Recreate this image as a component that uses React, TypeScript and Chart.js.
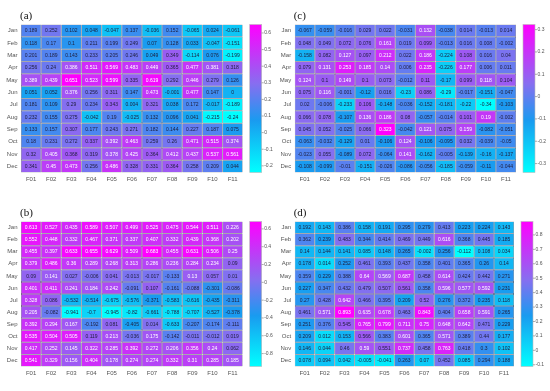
import React, { useEffect, useRef } from "react";
import { Chart, registerables } from "chart.js";
Chart.register(...registerables);

const months = ["Jan", "Feb", "Mar", "Apr", "May", "Jun", "Jul", "Aug", "Sep", "Oct", "Nov", "Dec"];
const factors = ["F01", "F02", "F03", "F04", "F05", "F06", "F07", "F08", "F09", "F10", "F11"];

const valuesA: number[][] = [
  [0.189, 0.252, 0.102, 0.048, -0.047, 0.137, -0.036, 0.152, -0.065, 0.024, -0.061],
  [0.118, 0.17, 0.1, 0.211, 0.199, 0.249, 0.07, 0.128, 0.033, -0.047, -0.151],
  [0.201, 0.189, 0.143, 0.233, 0.205, 0.246, 0.049, 0.349, -0.114, 0.076, -0.199],
  [0.256, 0.24, 0.386, 0.511, 0.569, 0.483, 0.449, 0.365, 0.477, 0.381, 0.318],
  [0.389, 0.439, 0.651, 0.523, 0.599, 0.335, 0.619, 0.292, 0.446, 0.279, 0.126],
  [0.051, 0.052, 0.376, 0.256, 0.311, 0.147, 0.473, -0.001, 0.477, 0.147, 0],
  [0.181, 0.109, 0.29, 0.234, 0.343, 0.004, 0.321, 0.038, 0.172, -0.017, -0.189],
  [0.232, 0.155, 0.275, -0.042, 0.19, -0.025, 0.132, 0.096, 0.041, -0.215, -0.24],
  [0.133, 0.157, 0.307, 0.177, 0.243, 0.271, 0.182, 0.144, 0.227, 0.187, 0.075],
  [0.18, 0.231, 0.272, 0.337, 0.392, 0.463, 0.259, 0.26, 0.471, 0.515, 0.374],
  [0.32, 0.405, 0.368, 0.319, 0.378, 0.425, 0.364, 0.412, 0.437, 0.537, 0.561],
  [0.341, 0.45, 0.473, 0.256, 0.486, 0.328, 0.331, 0.364, 0.258, 0.209, 0.044],
];

const valuesB: number[][] = [
  [0.613, 0.527, 0.435, 0.589, 0.507, 0.499, 0.525, 0.475, 0.544, 0.511, 0.226],
  [0.552, 0.448, 0.332, 0.467, 0.371, 0.337, 0.407, 0.332, 0.439, 0.368, 0.202],
  [0.455, 0.397, 0.633, 0.655, 0.629, 0.509, 0.683, 0.455, 0.631, 0.506, 0.25],
  [0.379, 0.486, 0.36, 0.289, 0.268, 0.313, 0.286, 0.236, 0.284, 0.234, 0.09],
  [0.09, 0.141, 0.027, -0.006, 0.041, -0.013, -0.017, -0.133, 0.13, 0.057, 0.01],
  [0.401, 0.411, 0.241, 0.184, 0.242, -0.091, 0.107, -0.161, -0.088, -0.301, -0.086],
  [0.328, 0.086, -0.532, -0.514, -0.675, -0.576, -0.371, -0.583, -0.616, -0.435, -0.311],
  [0.205, -0.082, -0.941, -0.7, -0.945, -0.82, -0.661, -0.788, -0.707, -0.527, -0.378],
  [0.392, 0.294, 0.167, -0.192, 0.081, -0.405, 0.014, -0.633, -0.207, -0.174, -0.111],
  [0.535, 0.504, 0.505, 0.119, 0.213, -0.036, 0.175, -0.142, -0.011, -0.012, 0.019],
  [0.417, 0.252, 0.145, 0.322, 0.285, 0.392, 0.272, 0.206, 0.356, 0.24, 0.062],
  [0.541, 0.329, 0.156, 0.404, 0.178, 0.274, 0.274, 0.332, 0.31, 0.285, 0.185],
];

const valuesC: number[][] = [
  [-0.067, -0.059, -0.016, 0.029, 0.022, -0.031, 0.132, -0.038, 0.014, -0.013, 0.014],
  [0.048, 0.049, 0.072, 0.076, 0.161, 0.019, 0.099, -0.013, 0.016, 0.008, -0.002],
  [-0.158, 0.082, 0.127, 0.097, 0.212, 0.022, 0.186, -0.224, 0.108, 0.016, 0.04],
  [0.079, 0.131, 0.253, 0.185, 0.14, 0.006, 0.235, -0.226, 0.177, 0.006, 0.011],
  [0.124, 0.1, 0.149, 0.1, 0.073, -0.012, 0.11, -0.17, 0.099, 0.118, 0.104],
  [0.075, 0.116, -0.001, -0.12, 0.016, -0.23, 0.086, -0.29, -0.017, -0.151, -0.047],
  [0.02, -0.006, -0.233, 0.106, -0.148, -0.036, -0.152, -0.181, -0.22, -0.34, -0.103],
  [0.066, 0.078, -0.107, 0.136, 0.186, 0.08, -0.057, -0.014, 0.101, 0.19, -0.002],
  [0.045, 0.052, -0.025, 0.066, 0.323, -0.042, 0.121, 0.075, 0.159, -0.082, -0.051],
  [-0.063, -0.032, -0.129, 0.01, -0.106, 0.124, -0.106, -0.095, 0.032, -0.039, -0.05],
  [-0.023, 0.055, -0.089, 0.072, -0.064, 0.141, -0.162, -0.005, -0.139, -0.16, -0.137],
  [-0.108, -0.099, -0.01, -0.151, -0.026, -0.086, -0.056, -0.185, -0.059, -0.11, -0.044],
];

const valuesD: number[][] = [
  [0.192, 0.143, 0.386, 0.158, 0.191, 0.295, 0.279, 0.413, 0.223, 0.224, 0.143],
  [0.362, 0.239, 0.483, 0.344, 0.414, 0.469, 0.449, 0.616, 0.368, 0.445, 0.185],
  [0.14, 0.144, 0.141, 0.085, 0.148, 0.265, -0.002, 0.256, -0.112, 0.108, 0.034],
  [0.178, 0.014, 0.252, 0.461, 0.393, 0.437, 0.358, 0.401, 0.365, 0.26, 0.14],
  [0.359, 0.229, 0.388, 0.64, 0.569, 0.687, 0.458, 0.614, 0.424, 0.442, 0.271],
  [0.227, 0.347, 0.432, 0.479, 0.507, 0.561, 0.358, 0.596, 0.577, 0.592, 0.231],
  [0.27, 0.428, 0.642, 0.466, 0.395, 0.209, 0.52, 0.276, 0.372, 0.235, 0.118],
  [0.461, 0.571, 0.893, 0.635, 0.678, 0.463, 0.843, 0.404, 0.658, 0.591, 0.265],
  [0.251, 0.376, 0.545, 0.765, 0.799, 0.711, 0.75, 0.648, 0.642, 0.471, 0.229],
  [0.209, 0.012, 0.153, 0.566, 0.383, 0.601, 0.365, 0.571, 0.389, 0.44, 0.177],
  [0.146, 0.044, 0.46, 0.59, 0.551, 0.737, 0.458, 0.763, 0.418, 0.3, 0.102],
  [0.078, 0.094, 0.042, -0.005, -0.041, 0.263, 0.07, 0.452, 0.085, 0.294, 0.188],
];

const cbTicksA = [-0.2, -0.1, 0, 0.1, 0.2, 0.3, 0.4, 0.5, 0.6];
const cbTicksB = [-0.8, -0.6, -0.4, -0.2, 0, 0.2, 0.4, 0.6];
const cbTicksC = [-0.3, -0.2, -0.1, 0, 0.1, 0.2, 0.3];
const cbTicksD = [-0.1, 0, 0.1, 0.2, 0.3, 0.4, 0.5, 0.6, 0.7, 0.8];

const STOPS: [number, number[]][] = [
  [0, [0, 255, 255]],
  [0.35, [25, 155, 240]],
  [0.6, [135, 110, 240]],
  [1, [255, 0, 255]],
];

function cmap(f: number): string {
  f = Math.max(0, Math.min(1, f));
  for (let i = 1; i < STOPS.length; i++) {
    const [f1, c1] = STOPS[i];
    const [f0, c0] = STOPS[i - 1];
    if (f <= f1) {
      const t = (f - f0) / (f1 - f0);
      const c = c0.map((v, k) => Math.round(v + (c1[k] - v) * t));
      return `rgb(${c[0]},${c[1]},${c[2]})`;
    }
  }
  return "rgb(255,0,255)";
}

const SANS = '"Liberation Sans", Arial, sans-serif';

type PanelProps = {
  title: string;
  values: number[][];
  cbTicks: number[];
  left: number;
  top: number;
  width: number;
  height: number;
  gridLeft: number;
  gridRight: number;
  gridTop: number;
  gridBottom: number;
  thr: number;
};

function Panel(p: PanelProps) {
  const ref = useRef<HTMLCanvasElement | null>(null);
  useEffect(() => {
    if (!ref.current) return;
    const flat = p.values.flat();
    const vmin = Math.min(...flat);
    const vmax = Math.max(...flat);
    const frac = (v: number) => (v - vmin) / (vmax - vmin);

    const cellText = {
      id: "cellText",
      afterDatasetsDraw(chart: any) {
        const ctx = chart.ctx;
        ctx.save();
        ctx.font = `5px ${SANS}`;
        ctx.textAlign = "center";
        ctx.textBaseline = "middle";
        chart.data.datasets.forEach((ds: any, i: number) => {
          const meta = chart.getDatasetMeta(i);
          meta.data.forEach((el: any, j: number) => {
            const v = p.values[i][j];
            ctx.fillStyle = frac(v) > p.thr ? "#ffffff" : "#1e1e3c";
            ctx.fillText(String(v), el.x, (el.y + el.base) / 2 + 0.3);
          });
        });
        ctx.restore();
      },
    };

    const colorBar = {
      id: "colorBar",
      afterDraw(chart: any) {
        const ctx = chart.ctx;
        const s = chart.scales.cb;
        const x0 = chart.chartArea.right + 7;
        const w = 12;
        ctx.save();
        const g = ctx.createLinearGradient(0, s.bottom, 0, s.top);
        STOPS.forEach(([f]) => g.addColorStop(f, cmap(f)));
        ctx.fillStyle = g;
        ctx.fillRect(x0, s.top, w, s.bottom - s.top);
        ctx.strokeStyle = "#bbbbbb";
        ctx.lineWidth = 0.6;
        ctx.strokeRect(x0, s.top, w, s.bottom - s.top);
        ctx.strokeStyle = "#777777";
        ctx.lineWidth = 0.6;
        s.ticks.forEach((t: any) => {
          const y = s.getPixelForValue(t.value);
          ctx.beginPath();
          ctx.moveTo(x0 + w, y);
          ctx.lineTo(x0 + w + 2, y);
          ctx.stroke();
        });
        ctx.fillStyle = "#111";
        ctx.font = `11px "Liberation Serif", "Times New Roman", serif`;
        ctx.textAlign = "left";
        ctx.textBaseline = "alphabetic";
        ctx.fillText(p.title, chart.chartArea.left - 1, chart.chartArea.top - 5.5);
        ctx.restore();
      },
    };

    const chart = new Chart(ref.current, {
      type: "bar",
      data: {
        labels: factors,
        datasets: months.map((m, i) => ({
          label: m,
          data: p.values[i].map(() => 1),
          backgroundColor: p.values[i].map((v) => cmap(frac(v))),
          borderColor: "#3a3a4a",
          borderWidth: 0.5,
          borderSkipped: false,
          barPercentage: 1,
          categoryPercentage: 1,
          inflateAmount: 0,
        })),
      },
      options: {
        responsive: false,
        animation: false,
        devicePixelRatio: 1,
        layout: { padding: { top: p.gridTop, left: 0, right: 0, bottom: 0 } },
        plugins: {
          legend: { display: false },
          tooltip: { enabled: false },
          title: { display: false },
        },
        scales: {
          x: {
            type: "category",
            stacked: true,
            offset: true,
            grid: { display: false, drawTicks: false },
            border: { display: false },
            ticks: { font: { size: 6, family: SANS }, color: "#555", padding: 3, maxRotation: 0, autoSkip: false },
            afterFit: (s: any) => {
              s.height = p.height - p.gridBottom;
            },
          },
          y: {
            type: "linear",
            stacked: true,
            min: 0,
            max: 12,
            reverse: true,
            grid: { display: false, drawTicks: false },
            border: { display: false },
            ticks: {
              font: { size: 6, family: SANS },
              color: "#555",
              padding: 3.5,
              autoSkip: false,
              callback: (v: any) => months[Math.floor(Number(v))] ?? "",
            },
            afterBuildTicks: (s: any) => {
              s.ticks = months.map((_, i) => ({ value: i + 0.5 }));
            },
            afterFit: (s: any) => {
              s.width = p.gridLeft;
            },
          },
          cb: {
            type: "linear",
            position: "right",
            min: vmin,
            max: vmax,
            grid: { display: false, drawTicks: false },
            border: { display: false },
            ticks: {
              font: { size: 5, family: SANS },
              color: "#555",
              padding: 21.5,
              autoSkip: false,
              callback: (v: any) => String(Math.round(Number(v) * 10) / 10),
            },
            afterBuildTicks: (s: any) => {
              s.ticks = p.cbTicks.map((v) => ({ value: v }));
            },
            afterFit: (s: any) => {
              s.width = p.width - p.gridRight;
            },
          },
        },
      } as any,
      plugins: [cellText, colorBar],
    });
    return () => chart.destroy();
  }, []);
  return (
    <canvas
      ref={ref}
      width={p.width}
      height={p.height}
      style={{ position: "absolute", left: p.left, top: p.top, width: p.width, height: p.height }}
    />
  );
}

export default function App() {
  return (
    <div style={{ position: "fixed", left: 0, top: 0, width: 550, height: 391, background: "#fff", overflow: "hidden" }}>
      <Panel title="(a)" values={valuesA} cbTicks={cbTicksA} left={0} top={0} width={290} height={197}
        gridLeft={21} gridRight={242.7} gridTop={17.3} gridBottom={177.7} thr={0.685} />
      <Panel title="(b)" values={valuesB} cbTicks={cbTicksB} left={0} top={197} width={290} height={194}
        gridLeft={21} gridRight={242.7} gridTop={17.7} gridBottom={178} thr={0.66} />
      <Panel title="(c)" values={valuesC} cbTicks={cbTicksC} left={273} top={0} width={277} height={197}
        gridLeft={21.7} gridRight={243} gridTop={17.3} gridBottom={177.7} thr={0.683} />
      <Panel title="(d)" values={valuesD} cbTicks={cbTicksD} left={273} top={197} width={277} height={194}
        gridLeft={21.7} gridRight={241} gridTop={17.7} gridBottom={178} thr={0.676} />
    </div>
  );
}
